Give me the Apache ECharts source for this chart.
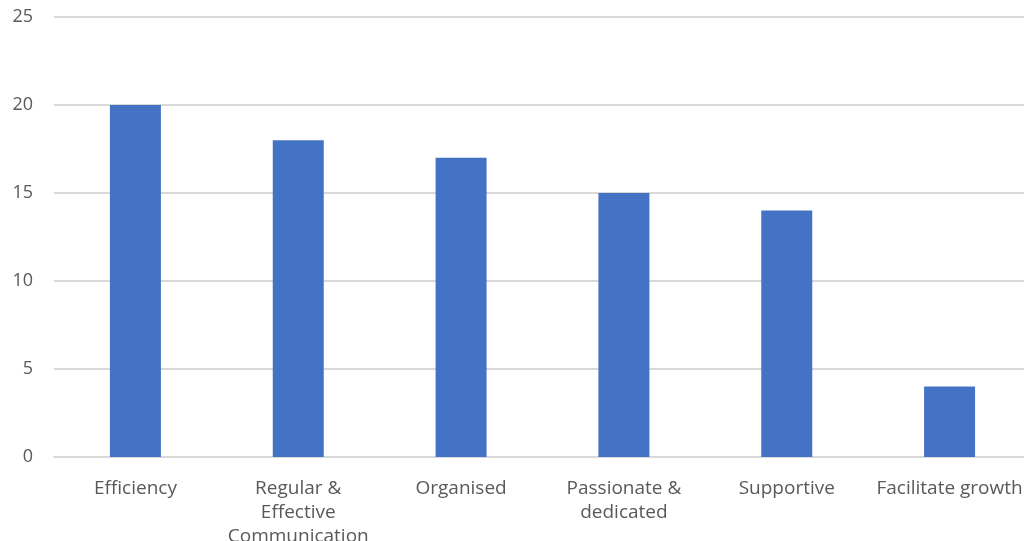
<!DOCTYPE html>
<html>
<head>
<meta charset="utf-8">
<script src="https://cdn.jsdelivr.net/npm/echarts@6/dist/echarts.min.js"></script>
<style>
  html, body { margin: 0; padding: 0; background: #fff; }
  #chart { width: 1024px; height: 541px; }
</style>
</head>
<body>
<div id="chart"></div>
<script>
var categories = ['Efficiency', 'Regular &\nEffective\nCommunication', 'Organised', 'Passionate &\ndedicated', 'Supportive', 'Facilitate growth'];
var values = [20, 18, 17, 15, 14, 4];
var yTicks = [0, 5, 10, 15, 20, 25];

var chart = echarts.init(document.getElementById('chart'));

var option = {
    animation: false,
    grid: {
        left: 54,
        right: -7,
        top: 17,
        bottom: 84,
        containLabel: false,
        outerBoundsMode: 'none'
    },
    xAxis: {
        type: 'category',
        data: categories,
        axisTick: { show: false },
        axisLine: { show: true, lineStyle: { color: '#d9d9d9', width: 2 } },
        axisLabel: {
            interval: 0,
            margin: 20,
            color: '#595959',
            fontFamily: 'Open Sans',
            fontSize: 19,
            lineHeight: 24
        }
    },
    yAxis: {
        type: 'value',
        min: yTicks[0],
        max: yTicks[yTicks.length - 1],
        interval: 5,
        axisLine: { show: false },
        axisTick: { show: false },
        splitLine: { lineStyle: { color: '#d9d9d9', width: 2 } },
        axisLabel: {
            margin: 21,
            color: '#595959',
            fontFamily: 'Open Sans',
            fontSize: 18
        }
    },
    series: [
        {
            type: 'bar',
            data: values,
            barWidth: 51,
            itemStyle: { color: '#4472c4' }
        }
    ]
};
chart.setOption(option);
</script>
</body>
</html>
